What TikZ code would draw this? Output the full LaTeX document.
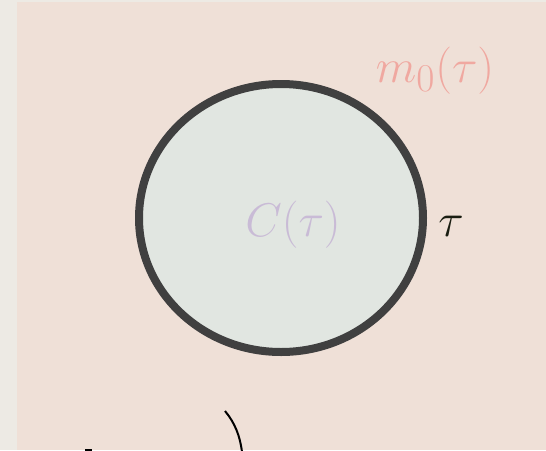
\documentclass[tikz,border=0pt]{standalone}
\usepackage{amsmath,amssymb}
\usetikzlibrary{positioning}

\definecolor{pagegray}{HTML}{EDEAE4}
\definecolor{panelpink}{HTML}{EFE0D7}
\definecolor{discfill}{HTML}{E1E6E1}
\definecolor{discline}{HTML}{404040}
\definecolor{salmon}{HTML}{F0A8A0}
\definecolor{lilac}{HTML}{C9BBD6}
\definecolor{inkdark}{HTML}{1A1E12}

\begin{document}
\begin{tikzpicture}[
        x=1pt, y=-1pt,
        lbl/.style={inner sep=0pt, anchor=base, font=\fontsize{24.88}{30}\selectfont, scale=1.9, transform shape},
    ]
    \useasboundingbox (0,0) rectangle (546,450);
    \fill[pagegray] (0,0) rectangle (546,450);
    \fill[panelpink] (16.5,2) rectangle (546,450);
    % the disc
    \draw[draw=discline, fill=discfill, line width=8pt] (281,218) ellipse [x radius=142, y radius=134];
    \node[lbl, text=lilac] (ctau) at (293,236) {$C(\tau)$};
    \node[lbl, text=salmon] (mzero) at (435,82) {$m_0(\tau)$};
    \node[lbl, text=inkdark] (tau) at (451,236) {$\tau$};
    % strokes cut off at the bottom edge
    \draw[line width=2pt, black] (225,411) .. controls (235,423) and (240,436) .. (242,452);
    \draw[line width=2pt, black] (85,449.5) -- (92,449.5);
\end{tikzpicture}
\end{document}
